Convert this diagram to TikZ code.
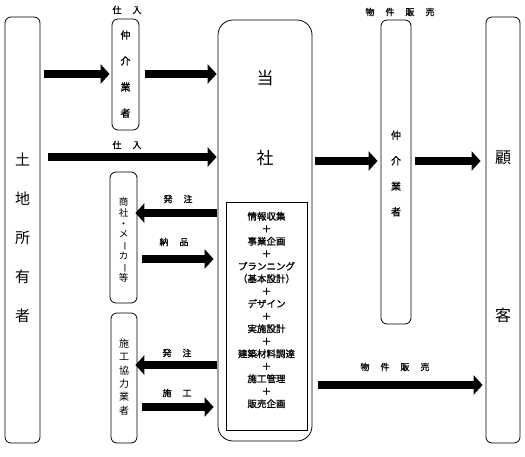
\documentclass[tikz,border=0pt]{standalone}
\usepackage{fontspec}
\newfontfamily\jp{Noto Sans CJK JP}
\newfontfamily\jpb{Noto Sans CJK JP}[FakeBold=1.2]
\usetikzlibrary{arrows.meta}
\newcommand\lsp{\hspace{11pt}}
\newcommand\vbar{\rotatebox[origin=c]{-90}{ー}}
\tikzset{
  box/.style={draw,line width=0.8pt,rounded corners=6pt,inner sep=0pt},
  fat/.style={line width=8.5pt,-{Triangle[length=9pt,width=19pt]}},
  lbl/.style={font=\jpb\fontsize{9}{9}\selectfont},
  big/.style={align=center,font=\jp\fontsize{15}{39}\selectfont},
}

\begin{document}
\begin{tikzpicture}[x=1pt,y=-1pt,font=\jp]
\useasboundingbox (0,0) rectangle (525,456);
% rows of the arrows
\coordinate (r1) at (0,74);
\coordinate (r2) at (0,157);
\coordinate (r3) at (0,161);
\coordinate (r4) at (0,213);
\coordinate (r5) at (0,259);
\coordinate (r6) at (0,365);
\coordinate (r7) at (0,407);
\coordinate (r8) at (0,385);

% boxes
\node[box,minimum width=35pt,minimum height=426pt] (owner) at (22.5,230) {};
\node[box,minimum width=27pt,minimum height=111pt] (broker) at (125.5,74.5) {};
\node[box,rounded corners=15pt,minimum width=94pt,minimum height=421pt] (firm) at (265,230.5) {};
\node[draw,line width=0.8pt,minimum width=81pt,minimum height=228pt] (tasks) at (266.5,316) {};
\node[box,minimum width=27pt,minimum height=131pt] (trader) at (123.5,237.5) {};
\node[box,minimum width=26pt,minimum height=130pt] (builder) at (124,378) {};
\node[box,minimum width=30pt,minimum height=304pt] (agent) at (396,172) {};
\node[box,minimum width=34pt,minimum height=426pt] (client) at (503,230) {};

% texts in the boxes
\node[big] (ownertxt) at (22.5,238) {土\\地\\所\\有\\者};
\node[align=center,font=\jpb\fontsize{10}{26}\selectfont] (brokertxt) at (125.5,74) {仲\\介\\業\\者};
\node[align=center,font=\jpb\fontsize{10}{25.5}\selectfont] (agenttxt) at (396,173.5) {仲\\介\\業\\者};
\node[font=\jp\fontsize{17}{17}\selectfont] (firmtop) at (265,78) {当};
\node[font=\jp\fontsize{17}{17}\selectfont] (firmbot) at (265,158) {社};
\node[align=center,font=\jpb\fontsize{9.5}{12.5}\selectfont] (taskstxt) at (266.5,310)
  {情報収集\\＋\\事業企画\\＋\\プランニング\\（基本設計）\\＋\\デザイン\\＋\\実施設計\\＋\\建築材料調達\\＋\\施工管理\\＋\\販売企画};
\node[align=center,font=\jp\fontsize{9.5}{10.7}\selectfont] (tradertxt) at (123.5,240) {商\\社\\・\\メ\\\vbar\\カ\\\vbar\\等};
\node[align=center,font=\jp\fontsize{10}{13.4}\selectfont] (buildertxt) at (124,377) {施\\工\\協\\力\\業\\者};
\node[font=\jp\fontsize{16}{16}\selectfont] (clienttop) at (503,158) {顧};
\node[font=\jp\fontsize{16}{16}\selectfont] (clientbot) at (503,315) {客};

% arrows
\draw[fat,shorten <=4pt,shorten >=2pt] (owner.east |- r1) -- (broker.west |- r1);
\draw[fat,shorten <=6pt,shorten >=1pt] (broker.east |- r1) -- (firm.west |- r1);
\draw[fat,shorten <=8pt,shorten >=1pt] (owner.east |- r2) -- (firm.west |- r2);
\draw[fat,shorten <=1pt,shorten >=-2pt] (firm.west |- r4) -- (trader.east |- r4);
\draw[fat,shorten <=5pt,shorten >=4pt] (trader.east |- r5) -- (firm.west |- r5);
\draw[fat,shorten <=1pt,shorten >=-2pt] (firm.west |- r6) -- (builder.east |- r6);
\draw[fat,shorten <=5pt,shorten >=4pt] (builder.east |- r7) -- (firm.west |- r7);
\draw[fat,shorten <=3pt,shorten >=3pt] (firm.east |- r3) -- (agent.west |- r3);
\draw[fat,shorten <=4pt,shorten >=5pt] (agent.east |- r3) -- (client.west |- r3);
\draw[fat,shorten <=6pt,shorten >=3pt] (firm.east |- r8) -- (client.west |- r8);

% labels
\node[lbl] (l1) at (127,10) {仕\lsp 入};
\node[lbl] (l2) at (127,145) {仕\lsp 入};
\node[lbl] (l3) at (178,199) {発\lsp 注};
\node[lbl] (l4) at (174,242) {納\lsp 品};
\node[lbl] (l5) at (177,353) {発\lsp 注};
\node[lbl] (l6) at (177,393) {施\lsp 工};
\node[lbl] (l7) at (400,12) {物\lsp 件\lsp 販\lsp 売};
\node[lbl] (l8) at (395,367) {物\lsp 件\lsp 販\lsp 売};
\end{tikzpicture}
\end{document}
